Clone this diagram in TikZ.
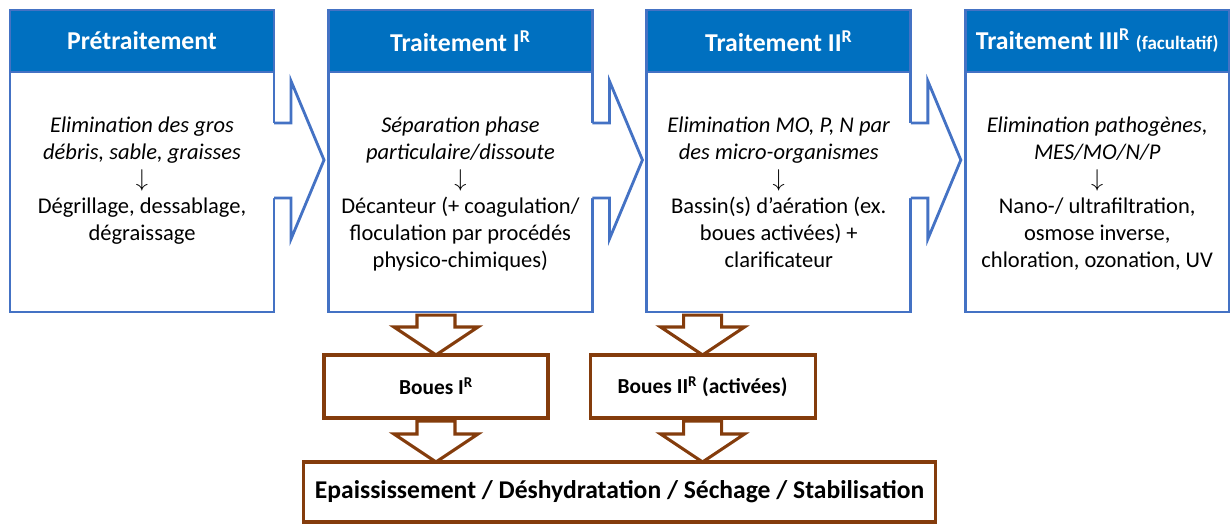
\documentclass[tikz,border=0pt]{standalone}
\usepackage{fontspec}
\setmainfont{Carlito}
\usepackage{tikz}
\usetikzlibrary{positioning,calc}
\definecolor{hdrblue}{HTML}{0070C0}
\definecolor{lineblue}{HTML}{4472C4}
\definecolor{sludge}{HTML}{843C0C}

\begin{document}
\begin{tikzpicture}[x=0.025cm, y=0.025cm, every node/.style={inner sep=0pt, outer sep=0pt},
	header/.style={rectangle, fill=hdrblue, draw=lineblue, line width=2pt, minimum width=6.6cm, minimum height=1.55cm, text=white, font=\fontsize{18.3}{21}\selectfont\bfseries},
	body/.style={rectangle, fill=white, draw=lineblue, line width=2pt, minimum width=6.6cm, minimum height=6cm},
	bodytext/.style={align=center, font=\fontsize{16}{19.1}\selectfont},
	sludgebox/.style={rectangle, fill=white, draw=sludge, line width=2.2pt, minimum height=1.575cm, font=\fontsize{15.2}{18}\selectfont\bfseries},
	sludgearrow/.style={fill=white, draw=sludge, line width=2.2pt},
	callout/.style={draw=lineblue, line width=2pt}]

	\useasboundingbox (0,0) rectangle (1230,-525);

	\node [header] (H1) at (142,-41) {Prétraitement};
	\node [header] (H2) [right of=H1, node distance=7.958cm] {Traitement I\textsuperscript{R}};
	\node [header] (H3) [right of=H2, node distance=7.958cm] {Traitement II\textsuperscript{R}};
	\node [header] (H4) [right of=H3, node distance=7.958cm]
		{Traitement III\textsuperscript{R} {\fontsize{13.5}{16}\selectfont (facultatif)}};

	\node [body] (B1) [below of=H1, node distance=3.775cm] {};
	\node [body] (B2) [below of=H2, node distance=3.775cm] {};
	\node [body] (B3) [below of=H3, node distance=3.775cm] {};
	\node [body] (B4) [below of=H4, node distance=3.775cm] {};

	\foreach \bx in {B1,B2,B3} {
		\fill[white] ($(\bx.north east)+(-3,-51)$) -- ++(20,0) -- ++(0,42) -- ($(\bx.north east)+(50,-88)$)
			-- ($(\bx.north east)+(17,-167)$) -- ++(0,41) -- ++(-20,0) -- cycle;
		\draw[callout] ($(\bx.north east)+(0,-51)$) -- ++(17,0) -- ++(0,42) -- ($(\bx.north east)+(50,-88)$)
			-- ($(\bx.north east)+(17,-167)$) -- ++(0,41) -- ++(-17,0);
	}

	\node [bodytext, below=1.13cm of B1.north] (T1)
		{\textit{Elimination des gros}\\ \textit{débris, sable, graisses}\\ $\downarrow$\\ Dégrillage, dessablage,\\ dégraissage};
	\node [bodytext, below=1.13cm of B2.north] (T2)
		{\textit{Séparation phase}\\ \textit{particulaire/dissoute}\\ $\downarrow$\\ Décanteur (+ coagulation/\\ floculation par procédés\\ physico-chimiques)};
	\node [bodytext, below=1.13cm of B3.north] (T3)
		{\textit{Elimination MO, P, N par}\\ \textit{des micro-organismes}\\ $\downarrow$\\ Bassin(s) d’aération (ex.\\ boues activées) +\\ clarificateur};
	\node [bodytext, below=1.13cm of B4.north] (T4)
		{\textit{Elimination pathogènes,}\\ \textit{MES/MO/N/P}\\ $\downarrow$\\ Nano-/ ultrafiltration,\\ osmose inverse,\\ chloration, ozonation, UV};

	\node [sludgebox, minimum width=5.6cm] (S1) at (436,-386.5) {Boues I\textsuperscript{R}};
	\node [sludgebox, minimum width=5.625cm] (S2) [right of=S1, node distance=6.6625cm]
		{Boues II\textsuperscript{R} (activées)};
	\node [sludgebox, minimum width=15.775cm, minimum height=1.5cm, font=\fontsize{18.2}{21}\selectfont\bfseries] (F)
		at (619.5,-492) {Epaississement / Déshydratation / Séchage / Stabilisation};

	\foreach \from/\to/\col in {B2/S1/S1, B3/S2/S2, S1/F/S1, S2/F/S2} {
		\draw[sludgearrow] (\to.north -| \col.north) -- ++(-42,28) -- ++(23,0) -- ($(\from.south -| \col.north)+(-19,-3)$)
			-- ++(38,0) -- ($(\to.north -| \col.north)+(19,28)$) -- ++(23,0) -- cycle;
	}

\end{tikzpicture}
\end{document}
